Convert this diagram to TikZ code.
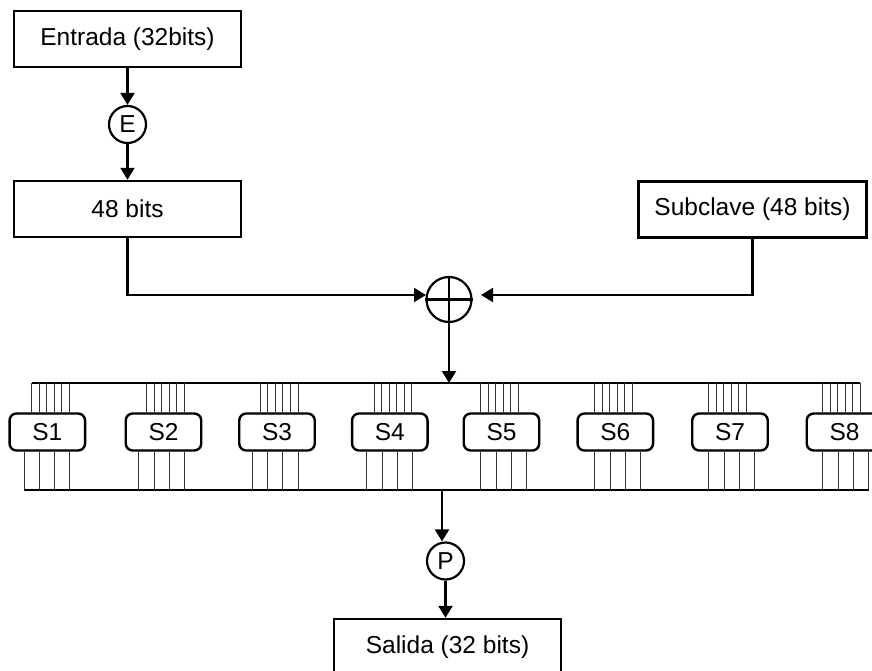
\documentclass[tikz,border=0pt]{standalone}
\usepackage{fontspec}
\setmainfont{Liberation Sans}
\usetikzlibrary{arrows.meta}
\begin{document}
\begin{tikzpicture}[x=1pt,y=-1pt,
  every node/.style={font=\fontsize{24.5}{28}\selectfont},
  bigbox/.style={draw,line width=2.4pt,minimum width=227pt,minimum height=56pt,inner sep=0pt},
  sbox/.style={draw,line width=2.4pt,rounded corners=7pt,minimum width=75.5pt,minimum height=37pt,inner sep=0pt},
  opcirc/.style={draw,circle,line width=2.2pt,minimum size=37pt,inner sep=0pt},
  conn/.style={line width=2.2pt},
  arr/.style={line width=2.2pt,-{Triangle[width=14pt,length=12pt]}},
  bus/.style={line width=2.4pt},
  wire/.style={line width=1pt,black!80}]
\useasboundingbox (0,0) rectangle (872,671);
\clip (0,0) rectangle (872,671);

% main boxes
\node[bigbox] (in) at (127.5,39) {Entrada (32bits)};
\node[opcirc] (E) at (127.5,124.5) {E};
\node[bigbox] (b48) at (127.5,209) {48 bits};
\node[bigbox,minimum width=228pt] (sub) at (752.5,209.5) {Subclave (48 bits)};
\node[draw,circle,line width=2.2pt,minimum size=45pt,inner sep=0pt] (x) at (449,299.5) {};
\draw[conn] (x.north) -- (x.south) (x.west) -- (x.east);
\node[opcirc] (P) at (445.5,561) {P};
\node[bigbox] (out) at (447.5,647) {Salida (32 bits)};

% connectors top part
\draw[arr] (in.south) -- (E.north);
\draw[arr] (E.south) -- (b48.north);
\coordinate (xl) at (426,295);
\coordinate (xr) at (481,295);
\draw[arr] (b48.south) |- (xl);
\draw[arr] (sub.south) |- (xr);

% buses
\coordinate (tb1) at (31.7,383);
\coordinate (tb2) at (860,383);
\coordinate (bb1) at (24,490);
\coordinate (bb2) at (868.7,490);
\draw[bus] (tb1) -- (tb2);
\draw[bus] (bb1) -- (bb2);
\coordinate (tbin) at (449,383);
\draw[arr] (x.south) -- (tbin);

% S boxes with wires
\foreach \i/\cx/\xt/\xb in {1/47.3/31.7/24, 2/163.5/146.7/138.7, 3/277/260.3/252.3, 4/389.8/374/366.7,
  5/501.5/480.7/480.7, 6/615.3/594.7/594.7, 7/730/708.7/708.7, 8/844.5/822.7/822.7}{
  \node[sbox] (S\i) at (\cx,432) {S\i};
  \foreach \k in {0,...,5}{
    \draw[wire] ({\xt+\k*7.55},383) coordinate (t) -- (t |- S\i.north);
  }
  \foreach \k in {0,...,3}{
    \draw[wire] ({\xb+\k*15.33},490) coordinate (u) -- (u |- S\i.south);
  }
}

% bottom part
\coordinate (bbout) at (442,490);
\draw[arr] (bbout) -- (bbout |- P.north);
\draw[arr] (P.south) -- (P.south |- out.north);
\end{tikzpicture}
\end{document}
